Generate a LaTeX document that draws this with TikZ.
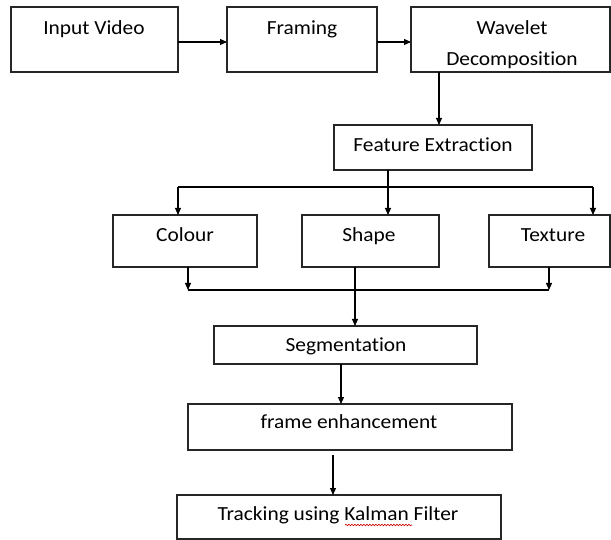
\documentclass[tikz,border=0pt]{standalone}
\usepackage{fontspec}
\setmainfont{Carlito}[Ligatures={NoCommon,NoRare}]
\usetikzlibrary{arrows.meta,decorations.pathmorphing}
\newcommand{\wtext}[1]{\scalebox{1.07}[1]{#1}}
\tikzset{
  box/.style={draw=black!85, line width=1.3pt, rectangle, inner sep=0pt, outer sep=0pt},
  lbl/.style={anchor=base, inner sep=0pt, font=\fontsize{20}{24}\selectfont, text=black},
  arr/.style={draw=black, line width=1.1pt, -{Triangle[length=7pt,width=6pt]}},
  ln/.style={draw=black, line width=1.1pt}
}
\begin{document}
\begin{tikzpicture}[x=1pt,y=-1pt]
\useasboundingbox (0,0) rectangle (611,540);
\fill[white] (0,0) rectangle (611,540);
% boxes
\node[box, minimum width=167pt, minimum height=65pt] (iv) at (94.5,39.5) {};
\node[box, minimum width=150pt, minimum height=65pt] (fr) at (302,39.5) {};
\node[box, minimum width=199pt, minimum height=65pt] (wd) at (510.5,39.5) {};
\node[box, minimum width=198pt, minimum height=45pt] (fe) at (433,147.5) {};
\node[box, minimum width=144pt, minimum height=52pt] (co) at (185,241) {};
\node[box, minimum width=137pt, minimum height=52pt] (sh) at (370.5,241) {};
\node[box, minimum width=121pt, minimum height=52pt] (tx) at (549.5,241) {};
\node[box, minimum width=263pt, minimum height=38pt] (sg) at (345.5,345) {};
\node[box, minimum width=324pt, minimum height=46pt] (en) at (350,427) {};
\node[box, minimum width=324pt, minimum height=44pt] (tk) at (339,517) {};
% labels
\node[lbl] (tiv) at (94,35) {\wtext{Input Video}};
\node[lbl] (tfr) at (302,35) {\wtext{Framing}};
\node[lbl] (twd1) at (512,35) {\wtext{Wavelet}};
\node[lbl] (twd2) at (512,66) {\wtext{Decomposition}};
\node[lbl] (tfe) at (433,152) {\wtext{Feature Extraction}};
\node[lbl] (tco) at (185,242) {\wtext{Colour}};
\node[lbl] (tsh) at (369,242) {\wtext{Shape}};
\node[lbl] (ttx) at (553,242) {\wtext{Texture}};
\node[lbl] (tsg) at (346,352) {\wtext{Segmentation}};
\node[lbl] (ten) at (349,428) {\wtext{frame enhancement}};
\node[lbl] (ttk) at (338,520) {\wtext{Tracking using Kalman Filter}};
% helper coordinates
\coordinate (yA) at (0,42);
\coordinate (x439) at (439,0);
\coordinate (x388) at (388,0);
\coordinate (x178) at (178,0);
\coordinate (x593) at (593,0);
\coordinate (y187) at (0,187);
\coordinate (x188) at (188,0);
\coordinate (x549) at (549,0);
\coordinate (x355) at (355,0);
\coordinate (y290) at (0,290);
\coordinate (x341) at (341,0);
\coordinate (x333) at (333,0);
\coordinate (y455) at (0,455);
% connectors
\draw[arr] (iv.east |- yA) -- (fr.west |- yA);
\draw[arr] (fr.east |- yA) -- (wd.west |- yA);
\draw[arr] (wd.south -| x439) -- (fe.north -| x439);
\draw[ln] (fe.south -| x388) -- (x388 |- y187);
\draw[ln] (x178 |- y187) -- (x593 |- y187);
\draw[arr] (x178 |- y187) -- (co.north -| x178);
\draw[arr] (x388 |- y187) -- (sh.north -| x388);
\draw[arr] (x593 |- y187) -- (tx.north -| x593);
\draw[arr] (co.south -| x188) -- (x188 |- y290);
\draw[arr] (tx.south -| x549) -- (x549 |- y290);
\draw[ln] (x188 |- y290) -- (x549 |- y290);
\draw[arr] (sh.south -| x355) -- (sg.north -| x355);
\draw[arr] (sg.south -| x341) -- (en.north -| x341);
\draw[arr] (x333 |- y455) -- (tk.north -| x333);
% spell-check underline
\draw[red!80!black, line width=0.6pt, decorate, decoration={snake, amplitude=0.8pt, segment length=3pt}] (345,525) -- (412,525);
\end{tikzpicture}
\end{document}
